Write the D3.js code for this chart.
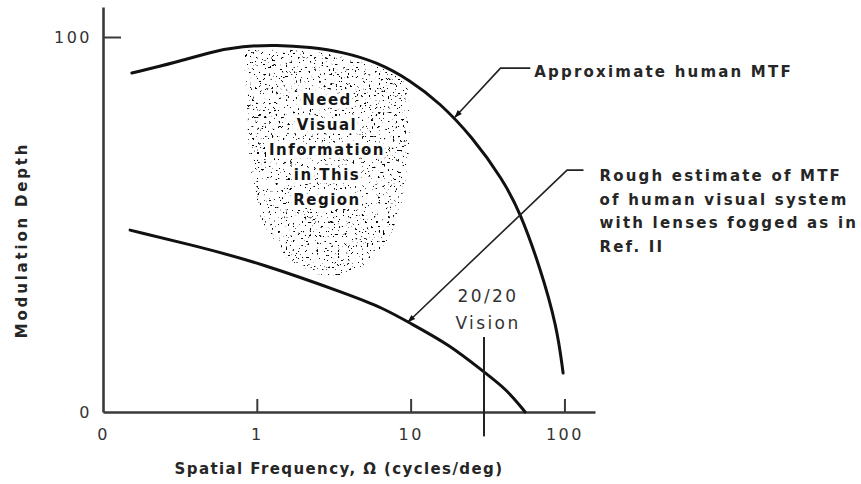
<!DOCTYPE html>
<meta charset="utf-8">
<style>
  html, body { margin: 0; background: #fff; }
  text { font-family: 'DejaVu Sans', sans-serif; fill: #262626; }
  .note { font-size: 15px; font-weight: bold; letter-spacing: 2.2px; }
  .vision { font-size: 17px; font-weight: normal; letter-spacing: 2.4px; fill: #333; }
  .tick text { font-size: 16px; letter-spacing: 2.5px; fill: #333; }
  .title { font-size: 15px; font-weight: bold; }
  .region { font-size: 15px; font-weight: bold; letter-spacing: 1.5px; fill: #151515;
            stroke: #fff; stroke-width: 7px; paint-order: stroke; stroke-linejoin: round; }
</style>
<script src="https://d3js.org/d3.v7.min.js"></script>
<div id="chart"></div>
<script>
// values (frequency in cycles/deg, depth in %)
var upperFreq  = [0.154, 0.303, 0.497, 0.813, 1.35, 2.22, 3.63, 6.05, 9.91, 15.5, 25, 39.9, 51.4, 69.3, 89.5, 98];
var upperDepth = [90.4, 93.3, 96.0, 97.6, 97.9, 97.3, 96.0, 93.3, 88.5, 82.4, 73.5, 61.9, 53.3, 38.7, 22.7, 10.4];

var lowerFreq  = [0.150, 0.428, 1.05, 4.04, 6.62, 9.62, 18.0, 30.5, 42.4, 55.5];
var lowerDepth = [48.5, 44.0, 39.7, 31.2, 27.7, 24.0, 17.9, 10.4, 5.9, 0];

// outline of the stippled "need information" region
var regionFreq  = [0.863, 1.35, 2.22, 3.63, 6.05, 9.2, 9.8, 9.62, 8.67, 6.92, 4.83, 3.22, 2.15, 1.46, 1.11, 0.96, 0.89, 0.863];
var regionDepth = [96.3, 96.8, 96.2, 94.9, 92.2, 87.6, 80.5, 67.2, 55.2, 45.3, 38.9, 36.3, 37.6, 42.4, 49.9, 59.2, 69.9, 83.2];

var xTicks = [0.1, 1, 10, 100];
var xTickLabels = ["0", "1", "10", "100"];
var yTicks = [0, 100];
var yTickLabels = ["0", "100"];

var visionFreq = 30;
var visionDepth = [20, -6.5];

var mtfLeaderFreq  = [19.4, 38.4, 60];
var mtfLeaderDepth = [78.6, 91.7, 91.7];
var fogLeaderFreq  = [9.62, 104, 133];
var fogLeaderDepth = [24.0, 64.5, 64.5];

var mtfNote = ["Approximate human MTF"];
var fogNote = ["Rough estimate of MTF", "of human visual system", "with lenses fogged as in", "Ref. II"];
var visionNote = ["20/20", "Vision"];
var regionNote = ["Need", "Visual", "Information", "in This", "Region"];

var width = 861, height = 484;

var svg = d3.select("#chart").append("svg")
    .attr("width", width)
    .attr("height", height);

var x = d3.scaleLog().domain([0.1, 158]).range([103, 595]);
var y = d3.scaleLinear().domain([0, 108]).range([412, 7]);

var defs = svg.append("defs");

// speckle texture for the shaded region
var f = defs.append("filter").attr("id", "stipple")
    .attr("x", 0).attr("y", 0).attr("width", "100%").attr("height", "100%");
f.append("feTurbulence").attr("type", "fractalNoise").attr("baseFrequency", 0.42)
    .attr("numOctaves", 2).attr("seed", 11).attr("result", "noise");
f.append("feColorMatrix").attr("in", "noise").attr("type", "matrix")
    .attr("values", "0 0 0 0 0  0 0 0 0 0  0 0 0 0 0  16 0 0 0 -10.6").attr("result", "dots");
f.append("feComposite").attr("in", "dots").attr("in2", "SourceGraphic").attr("operator", "in");

defs.append("marker").attr("id", "arrow")
    .attr("viewBox", "0 0 10 10").attr("refX", 9).attr("refY", 5)
    .attr("markerWidth", 12).attr("markerHeight", 8).attr("markerUnits", "userSpaceOnUse")
    .attr("orient", "auto-start-reverse")
  .append("path").attr("d", "M0,1.5L10,5L0,8.5Z").attr("fill", "#111");

function pts(fs, vs) { return fs.map(function(d, i) { return [d, vs[i]]; }); }

var line = d3.line()
    .x(function(d) { return x(d[0]); })
    .y(function(d) { return y(d[1]); })
    .curve(d3.curveBasis);

// stippled region
svg.append("path")
    .datum(pts(regionFreq, regionDepth))
    .attr("d", d3.line().x(line.x()).y(line.y()).curve(d3.curveCatmullRomClosed))
    .attr("fill", "#000")
    .attr("filter", "url(#stipple)");

// axes
var xAxis = d3.axisBottom(x)
    .tickValues(xTicks)
    .tickFormat(function(d, i) { return xTickLabels[i]; })
    .tickSizeInner(-13).tickSizeOuter(0).tickPadding(17);
var gx = svg.append("g").attr("transform", "translate(0," + y(0) + ")").call(xAxis);

var yAxis = d3.axisLeft(y)
    .tickValues(yTicks)
    .tickFormat(function(d, i) { return yTickLabels[i]; })
    .tickSizeInner(-18).tickSizeOuter(0).tickPadding(11);
var gy = svg.append("g").attr("transform", "translate(" + x(0.1) + ",0)").call(yAxis);

[gx, gy].forEach(function(g) {
  g.select(".domain").attr("stroke", "#3a3a3a").attr("stroke-width", 2.6);
  g.selectAll(".tick line").attr("stroke", "#3a3a3a").attr("stroke-width", 2);
  g.selectAll(".tick text").attr("font-family", null).attr("font-size", null);
});
gx.selectAll(".tick").filter(function(d) { return d === 0.1; }).select("line").remove();
gy.selectAll(".tick").filter(function(d) { return d === 0; }).select("line").remove();
gy.selectAll(".tick text").attr("dy", "0.36em");

// axis titles
svg.append("text")
    .attr("class", "title")
    .attr("x", 339).attr("y", 474)
    .attr("text-anchor", "middle")
    .attr("letter-spacing", 1.4)
    .text("Spatial Frequency, \u03A9 (cycles/deg)");
svg.append("text")
    .attr("class", "title")
    .attr("transform", "translate(27,240) rotate(-90)")
    .attr("text-anchor", "middle")
    .attr("letter-spacing", 2.8)
    .text("Modulation Depth");

// curves
svg.append("path")
    .datum(pts(upperFreq, upperDepth))
    .attr("d", line)
    .attr("fill", "none").attr("stroke", "#111").attr("stroke-width", 3).attr("stroke-linecap", "round");
svg.append("path")
    .datum(pts(lowerFreq, lowerDepth))
    .attr("d", line)
    .attr("fill", "none").attr("stroke", "#111").attr("stroke-width", 3).attr("stroke-linecap", "round");

// 20/20 vision marker
svg.append("line")
    .attr("x1", x(visionFreq)).attr("x2", x(visionFreq))
    .attr("y1", y(visionDepth[0])).attr("y2", y(visionDepth[1]))
    .attr("stroke", "#222").attr("stroke-width", 2);
svg.selectAll(".vision").data(visionNote).enter().append("text")
    .attr("class", "vision")
    .attr("x", x(visionFreq) + 4)
    .attr("y", function(d, i) { return y(visionDepth[0]) - 35 + i * 27; })
    .attr("text-anchor", "middle")
    .text(function(d) { return d; });

// leader lines
var straight = d3.line().x(function(d) { return x(d[0]); }).y(function(d) { return y(d[1]); });
[[mtfLeaderFreq, mtfLeaderDepth], [fogLeaderFreq, fogLeaderDepth]].forEach(function(l) {
  svg.append("path")
      .datum(pts(l[0], l[1]))
      .attr("d", straight)
      .attr("fill", "none").attr("stroke", "#222").attr("stroke-width", 1.6)
      .attr("marker-start", "url(#arrow)");
});

svg.selectAll(".mtf").data(mtfNote).enter().append("text")
    .attr("class", "note")
    .attr("x", x(mtfLeaderFreq[2]) + 4)
    .attr("y", y(mtfLeaderDepth[2]) + 9)
    .attr("letter-spacing", 2.8)
    .text(function(d) { return d; });

svg.selectAll(".fog").data(fogNote).enter().append("text")
    .attr("class", "note")
    .attr("x", x(fogLeaderFreq[2]) + 16)
    .attr("y", function(d, i) { return y(fogLeaderDepth[2]) + 11 + i * 23.5; })
    .text(function(d) { return d; });

// region label
svg.selectAll(".region").data(regionNote).enter().append("text")
    .attr("class", "region")
    .attr("x", x(2.86))
    .attr("y", function(d, i) { return y(82) + i * 25; })
    .attr("text-anchor", "middle")
    .text(function(d) { return d; });
</script>
